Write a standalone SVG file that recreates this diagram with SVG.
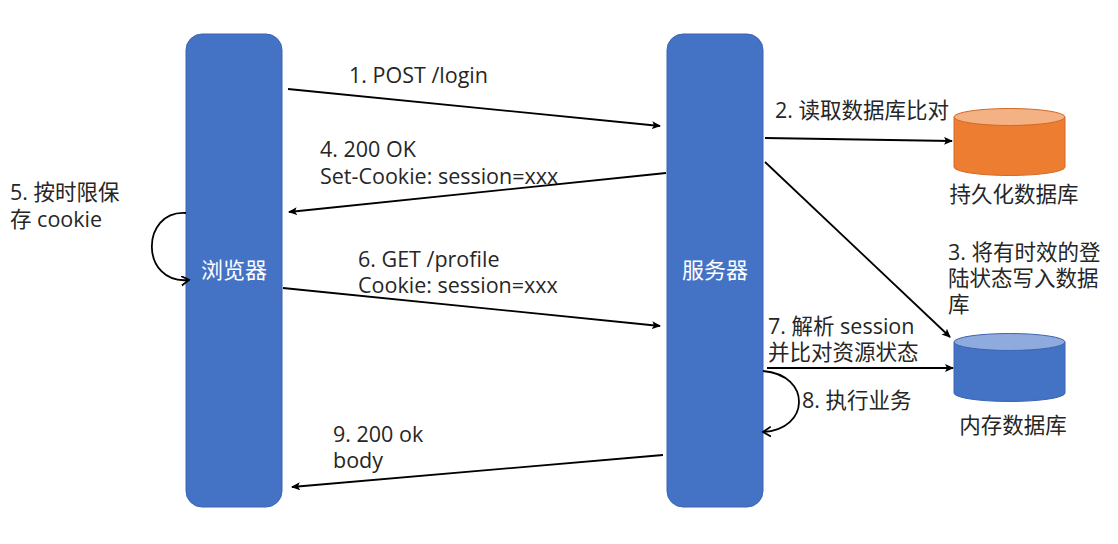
<svg xmlns="http://www.w3.org/2000/svg" width="1118" height="544" viewBox="0 0 1118 544">
<style>
text{font-family:"Open Sans","Noto Sans CJK SC",sans-serif;font-size:21.5px;fill:#262626}
.lbl{fill:#fff;font-size:22px}
.node{fill:#4472c4;stroke:#3a65b0;stroke-width:1}
.c{fill:none;stroke:#000;stroke-width:1.8}
</style>
<defs>
<marker id="a" markerWidth="10" markerHeight="10" refX="8" refY="4" orient="auto" markerUnits="userSpaceOnUse">
<path d="M0,0 L9,4 L0,8 L2,4 Z" fill="#000"/>
</marker>
<marker id="o" markerWidth="12" markerHeight="12" refX="8" refY="5" orient="auto" markerUnits="userSpaceOnUse">
<path d="M0,0 L8,5 L0,10" fill="none" stroke="#000" stroke-width="1.8"/>
</marker>
</defs>
<rect width="1118" height="544" fill="#fff"/>
<g id="browser">
<rect class="node" x="186" y="34" width="96" height="473" rx="16"/>
<text class="lbl" x="234" y="278" text-anchor="middle">浏览器</text>
</g>
<g id="server">
<rect class="node" x="667" y="34" width="96" height="473" rx="16"/>
<text class="lbl" x="715" y="278" text-anchor="middle">服务器</text>
</g>
<g id="persistdb">
<path d="M954,117 V167 A55.5,8.5 0 0 0 1065,167 V117" fill="#ed7d31" stroke="#d06a26" stroke-width="1"/>
<ellipse cx="1009.5" cy="117" rx="55.5" ry="8.5" fill="#f4b183" stroke="#d06a26" stroke-width="1"/>
<text x="1014" y="202" text-anchor="middle">持久化数据库</text>
</g>
<g id="memdb">
<path d="M954,342 V393 A55.5,8.5 0 0 0 1065,393 V342" fill="#4472c4" stroke="#3a65b0" stroke-width="1"/>
<ellipse cx="1009.5" cy="342" rx="55.5" ry="8.5" fill="#8faadc" stroke="#3a65b0" stroke-width="1"/>
<text x="1013" y="433" text-anchor="middle">内存数据库</text>
</g>
<g id="connectors">
<line class="c" x1="288" y1="89" x2="660" y2="126" marker-end="url(#a)"/>
<line class="c" x1="666" y1="173" x2="289" y2="212" marker-end="url(#a)"/>
<line class="c" x1="283" y1="288" x2="660" y2="326" marker-end="url(#a)"/>
<line class="c" x1="663" y1="455" x2="292" y2="487" marker-end="url(#a)"/>
<line class="c" x1="765" y1="138" x2="952" y2="141" marker-end="url(#a)"/>
<line class="c" x1="765" y1="162" x2="950" y2="337" marker-end="url(#a)"/>
<line class="c" x1="767" y1="368" x2="953" y2="368" marker-end="url(#a)"/>
<path class="c" d="M186,213 C140,210 140,285 189,280" marker-end="url(#o)"/>
<path class="c" d="M763,371 C812,375 810,430 763,432" marker-end="url(#o)"/>
</g>
<g id="labels">
<text x="349" y="83">1. POST /login</text>
<text x="775" y="118">2. 读取数据库比对</text>
<text x="948" y="260">3. 将有时效的登<tspan x="948" dy="26">陆状态写入数据</tspan><tspan x="948" dy="26">库</tspan></text>
<text x="320" y="157">4. 200 OK<tspan x="320" dy="27">Set-Cookie: session=xxx</tspan></text>
<text x="10" y="200">5. 按时限保<tspan x="10" dy="27">存 cookie</tspan></text>
<text x="358" y="267">6. GET /profile<tspan x="358" dy="26">Cookie: session=xxx</tspan></text>
<text x="768" y="334">7. 解析 session<tspan x="768" dy="26">并比对资源状态</tspan></text>
<text x="802" y="408">8. 执行业务</text>
<text x="333" y="442">9. 200 ok<tspan x="333" dy="26">body</tspan></text>
</g>
</svg>
